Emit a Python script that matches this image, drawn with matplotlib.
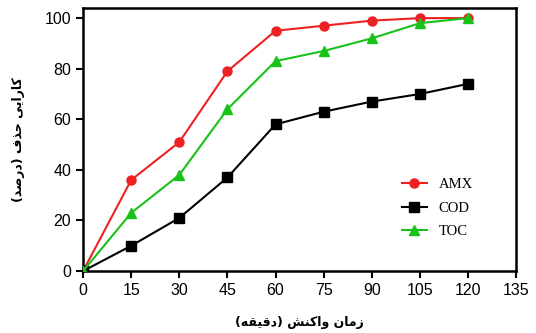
import matplotlib.pyplot as plt

# ---- data ----
time_min = [0, 15, 30, 45, 60, 75, 90, 105, 120]
amx = [0, 36, 51, 79, 95, 97, 99, 100, 100]
cod = [0, 10, 21, 37, 58, 63, 67, 70, 74]
toc = [0, 23, 38, 64, 83, 87, 92, 98, 100]
x_ticks = [0, 15, 30, 45, 60, 75, 90, 105, 120, 135]
y_ticks = [0, 20, 40, 60, 80, 100]
xlabel_fa = "زمان واکنش (دقیقه)"
ylabel_fa = "کارایی حذف (درصد)"

# ---- tiny persian shaper (no arabic_reshaper available) ----
# letter: (isolated, final, initial, medial) ; None -> does not join to next letter
FORMS = {
    "ا": ("\uFE8D", "\uFE8E", None, None),
    "ر": ("\uFEAD", "\uFEAE", None, None),
    "د": ("\uFEA9", "\uFEAA", None, None),
    "ذ": ("\uFEAB", "\uFEAC", None, None),
    "ز": ("\uFEAF", "\uFEB0", None, None),
    "و": ("\uFEED", "\uFEEE", None, None),
    "ح": ("\uFEA1", "\uFEA2", "\uFEA3", "\uFEA4"),
    "ف": ("\uFED1", "\uFED2", "\uFED3", "\uFED4"),
    "ص": ("\uFEB9", "\uFEBA", "\uFEBB", "\uFEBC"),
    "م": ("\uFEE1", "\uFEE2", "\uFEE3", "\uFEE4"),
    "ن": ("\uFEE5", "\uFEE6", "\uFEE7", "\uFEE8"),
    "ش": ("\uFEB5", "\uFEB6", "\uFEB7", "\uFEB8"),
    "ق": ("\uFED5", "\uFED6", "\uFED7", "\uFED8"),
    "ه": ("\uFEE9", "\uFEEA", "\uFEEB", "\uFEEC"),
    "ک": ("\uFB8E", "\uFB8F", "\uFB90", "\uFB91"),
    "ی": ("\uFBFC", "\uFBFD", "\uFBFE", "\uFBFF"),
}


def shape(txt):
    out = []
    for i, ch in enumerate(txt):
        if ch not in FORMS:
            out.append(ch)
            continue
        prev = txt[i - 1] if i > 0 else ""
        nxt = txt[i + 1] if i + 1 < len(txt) else ""
        join_prev = prev in FORMS and FORMS[prev][2] is not None
        join_next = nxt in FORMS and FORMS[ch][2] is not None
        iso, fin, ini, med = FORMS[ch]
        if join_prev and join_next:
            out.append(med)
        elif join_prev:
            out.append(fin)
        elif join_next:
            out.append(ini)
        else:
            out.append(iso)
    vis = "".join(reversed(out))
    return vis.translate(str.maketrans("()", ")("))


# ---- plot ----
plt.rcParams["font.family"] = ["Liberation Sans", "DejaVu Sans"]

fig = plt.figure(figsize=(5.36, 3.33), dpi=100)
ax = fig.add_axes([0.155, 0.186, 0.808, 0.79])

ax.plot(time_min, amx, color="#ee2024", marker="o", ms=6.5, lw=1.5, label="AMX", zorder=3)
ax.plot(time_min, cod, color="black", marker="s", ms=6.5, lw=1.5, label="COD", zorder=3)
ax.plot(time_min, toc, color="#19c219", marker="^", ms=7.5, lw=1.5, label="TOC", zorder=3)

ax.set_xlim(0, 135)
ax.set_ylim(0, 104)
ax.set_xticks(x_ticks)
ax.set_yticks(y_ticks)
ax.tick_params(labelsize=11.5, width=1.5, length=5, direction="out")
for s in ax.spines.values():
    s.set_linewidth(1.8)

ax.set_xlabel(shape(xlabel_fa), family="DejaVu Sans", fontweight="bold", fontsize=9, labelpad=13)
ax.set_ylabel(shape(ylabel_fa), family="DejaVu Sans", fontweight="bold", fontsize=9, labelpad=14)

ax.legend(loc="lower right", bbox_to_anchor=(0.93, 0.075), frameon=False,
          prop={"family": "Liberation Serif", "size": 10.5}, handlelength=1.7,
          labelspacing=0.7)

fig.savefig("out.png", dpi=100)
